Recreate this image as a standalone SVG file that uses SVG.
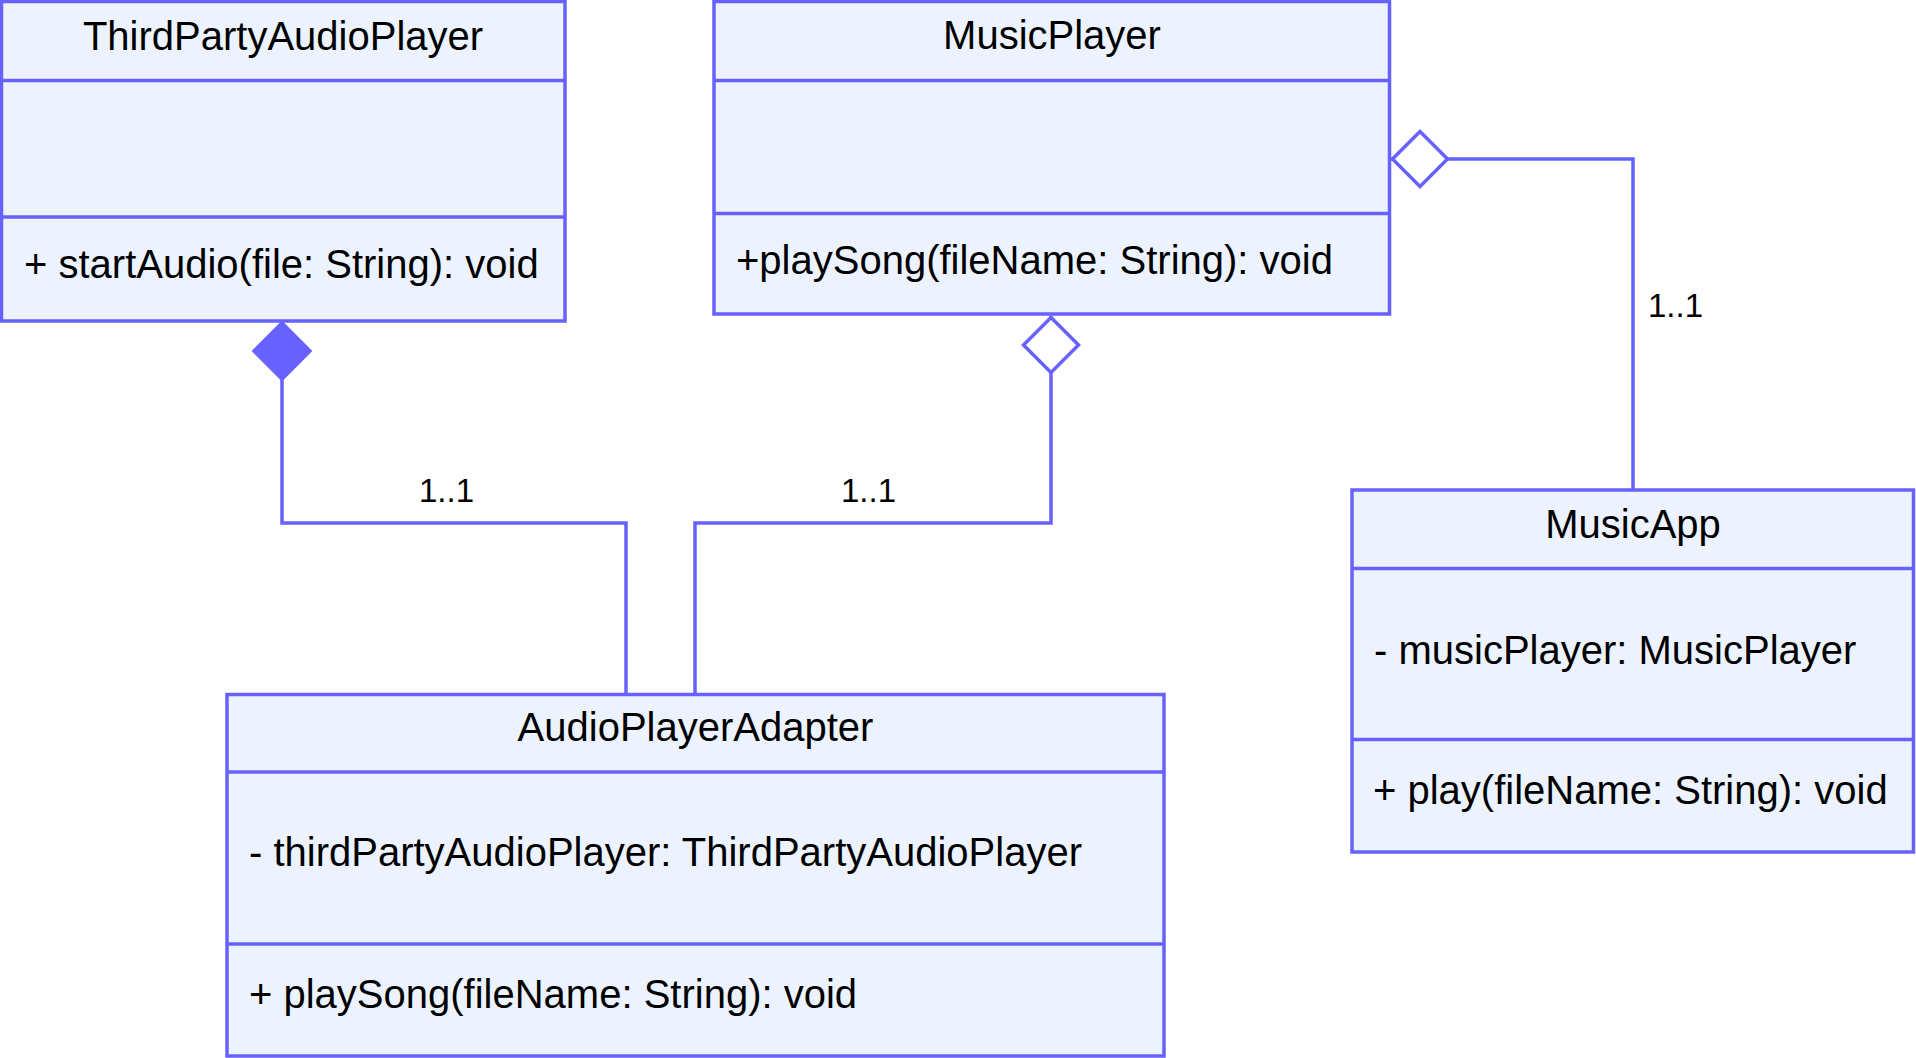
<svg xmlns="http://www.w3.org/2000/svg" width="1916" height="1058" viewBox="0 0 1916 1058">
<style>
.box{fill:#ECF3FF;stroke:#6762FF;stroke-width:3.5}
.div{stroke:#6762FF;stroke-width:3.5}
.t{font-family:"Liberation Sans",Arial,sans-serif;font-size:40px;fill:#000}
.c{text-anchor:middle}
.lbl{font-family:"Liberation Sans",Arial,sans-serif;font-size:33px;fill:#000}
.edge{fill:none;stroke:#6762FF;stroke-width:3.5}
</style>
<defs>
<marker id="dFill" markerUnits="userSpaceOnUse" viewBox="-2 -32 64 64" refX="0" refY="0" markerWidth="64" markerHeight="64" orient="auto" overflow="visible">
<path d="M0,0 L29,-29 L58,0 L29,29 Z" fill="#6762FF" stroke="#6762FF" stroke-width="2"/>
</marker>
<marker id="dHollow" markerUnits="userSpaceOnUse" viewBox="-2 -32 64 64" refX="0" refY="0" markerWidth="64" markerHeight="64" orient="auto" overflow="visible">
<path d="M1.5,0 L29,-27.5 L56.5,0 L29,27.5 Z" fill="#FFFFFF" stroke="#6762FF" stroke-width="3.5"/>
</marker>
</defs>
<g id="connectors">
<path class="edge" d="M282,322 V523 H626 V694" marker-start="url(#dFill)"/>
<path class="edge" d="M1051,316 V523 H695 V694" marker-start="url(#dHollow)"/>
<path class="edge" d="M1391,159 H1633 V489" marker-start="url(#dHollow)"/>
<text class="lbl" x="419" y="502">1..1</text>
<text class="lbl" x="841" y="502">1..1</text>
<text class="lbl" x="1648" y="317">1..1</text>
</g>
<g id="ThirdPartyAudioPlayer">
<rect class="box" x="1.5" y="1.5" width="563.5" height="319.5"/>
<line class="div" x1="1.5" y1="80.5" x2="565" y2="80.5"/>
<line class="div" x1="1.5" y1="217" x2="565" y2="217"/>
<text class="t c" x="283" y="50">ThirdPartyAudioPlayer</text>
<text class="t" x="24" y="278">+ startAudio(file: String): void</text>
</g>
<g id="MusicPlayer">
<rect class="box" x="714" y="1.5" width="675.5" height="312.5"/>
<line class="div" x1="714" y1="80.5" x2="1389.5" y2="80.5"/>
<line class="div" x1="714" y1="213.5" x2="1389.5" y2="213.5"/>
<text class="t c" x="1052" y="49">MusicPlayer</text>
<text class="t" x="736" y="274">+playSong(fileName: String): void</text>
</g>
<g id="MusicApp">
<rect class="box" x="1352" y="490" width="561.5" height="362"/>
<line class="div" x1="1352" y1="568.5" x2="1913.5" y2="568.5"/>
<line class="div" x1="1352" y1="739.5" x2="1913.5" y2="739.5"/>
<text class="t c" x="1633" y="538">MusicApp</text>
<text class="t" x="1374" y="664">- musicPlayer: MusicPlayer</text>
<text class="t" x="1373" y="804">+ play(fileName: String): void</text>
</g>
<g id="AudioPlayerAdapter">
<rect class="box" x="227" y="694.5" width="937" height="361.5"/>
<line class="div" x1="227" y1="772" x2="1164" y2="772"/>
<line class="div" x1="227" y1="944" x2="1164" y2="944"/>
<text class="t c" x="695.5" y="741">AudioPlayerAdapter</text>
<text class="t" x="249" y="866">- thirdPartyAudioPlayer: ThirdPartyAudioPlayer</text>
<text class="t" x="249" y="1008">+ playSong(fileName: String): void</text>
</g>
</svg>
